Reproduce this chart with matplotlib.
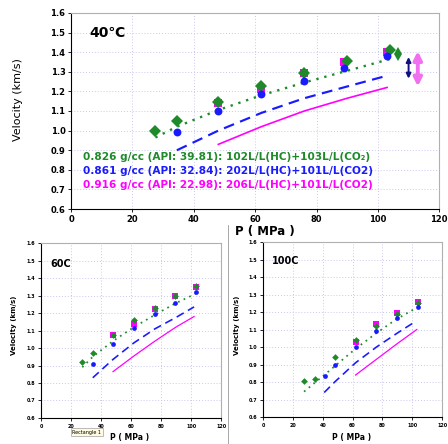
"""
Recreate the three-panel oil velocity vs pressure figure (40C / 60C / 100C).
"""

import matplotlib.pyplot as plt
from matplotlib.lines import Line2D

GREEN = "#1f8a2a"
BLUE = "#1a1aff"
PINK = "#ff00ff"
GRID = "#c8c8f0"

# ---------- data ----------
# 40C
p40_green = [27.5, 34.5, 48, 62, 76, 90, 104]
v40_green = [1.00, 1.05, 1.145, 1.225, 1.295, 1.355, 1.41]
p40_pink = [48, 62, 76, 89, 103]
v40_pink = [1.14, 1.21, 1.295, 1.35, 1.40]
p40_blue = [34.5, 48, 62, 76, 89, 103]
v40_blue = [0.995, 1.10, 1.185, 1.255, 1.32, 1.38]
p40_gfit = [27.5, 34.5, 48, 62, 76, 90, 104]
v40_gfit = [0.965, 1.02, 1.105, 1.18, 1.245, 1.305, 1.365]
p40_bfit = [34.5, 48, 62, 76, 90, 103]
v40_bfit = [0.90, 1.00, 1.09, 1.165, 1.225, 1.28]
p40_pfit = [48, 62, 76, 90, 103]
v40_pfit = [0.93, 1.02, 1.10, 1.165, 1.22]

# 60C
p60_green = [27.5, 34.5, 48, 62, 76, 89.5, 103.5]
v60_green = [0.92, 0.97, 1.075, 1.16, 1.23, 1.295, 1.355]
p60_pink = [48, 62, 76, 89.5, 103.5]
v60_pink = [1.075, 1.14, 1.225, 1.295, 1.35]
p60_blue = [34.5, 48, 62, 76, 89.5, 103.5]
v60_blue = [0.91, 1.025, 1.115, 1.195, 1.26, 1.32]
p60_gfit = [27.5, 34.5, 48, 62, 76, 89.5, 103]
v60_gfit = [0.89, 0.95, 1.04, 1.12, 1.19, 1.255, 1.31]
p60_bfit = [34.5, 48, 62, 76, 90, 102]
v60_bfit = [0.83, 0.935, 1.03, 1.11, 1.175, 1.235]
p60_pfit = [48, 62, 76, 90, 102]
v60_pfit = [0.865, 0.955, 1.04, 1.12, 1.18]

# 100C
p100_green = [27.5, 35, 48, 62, 76, 89.5, 103.5]
v100_green = [0.805, 0.82, 0.945, 1.04, 1.12, 1.19, 1.25]
p100_pink = [62, 76, 89.5, 103.5]
v100_pink = [1.03, 1.13, 1.195, 1.255]
p100_blue = [41.5, 48, 62, 76, 89.5, 103.5]
v100_blue = [0.835, 0.90, 1.00, 1.09, 1.165, 1.23]
p100_gfit = [27.5, 41, 48, 62, 76, 89.5, 103]
v100_gfit = [0.745, 0.84, 0.89, 0.99, 1.08, 1.16, 1.225]
p100_bfit = [41, 48, 62, 76, 90, 101]
v100_bfit = [0.74, 0.80, 0.91, 1.00, 1.08, 1.14]
p100_pfit = [62, 76, 90, 103]
v100_pfit = [0.84, 0.93, 1.02, 1.10]

legend_lines = [
    ("0.826 g/cc (API: 39.81): 102L/L(HC)+103L/L(CO₂)", GREEN),
    ("0.861 g/cc (API: 32.84): 202L/L(HC)+101L/L(CO2)", BLUE),
    ("0.916 g/cc (API: 22.98): 206L/L(HC)+101L/L(CO2)", PINK),
]

x_ticks = [0, 20, 40, 60, 80, 100, 120]
y_ticks = [0.6, 0.7, 0.8, 0.9, 1.0, 1.1, 1.2, 1.3, 1.4, 1.5, 1.6]


def draw_panel(ax, data, ms, lw, tick_fs):
    (pg, vg, pp, vp, pb, vb, pgf, vgf, pbf, vbf, ppf, vpf) = data
    ax.plot(pgf, vgf, color=GREEN, linestyle=(0, (1, 2.5)), linewidth=lw * 1.4)
    ax.plot(pbf, vbf, color=BLUE, linestyle=(0, (5, 3)), linewidth=lw * 1.3)
    ax.plot(ppf, vpf, color=PINK, linestyle="-", linewidth=lw)
    ax.plot(pp, vp, "s", color=PINK, markersize=ms, markeredgewidth=0)
    ax.plot(pg, vg, "D", color=GREEN, markersize=ms * 0.9, markeredgewidth=0)
    ax.plot(pb, vb, "o", color=BLUE, markersize=ms * 0.9, markeredgewidth=0)
    ax.set_xlim(0, 120)
    ax.set_ylim(0.6, 1.6)
    ax.set_xticks(x_ticks)
    ax.set_yticks(y_ticks)
    ax.set_yticklabels([f"{t:.1f}" for t in y_ticks])
    ax.tick_params(labelsize=tick_fs, length=2, width=0.6, pad=2)
    for lab in ax.get_xticklabels() + ax.get_yticklabels():
        lab.set_fontweight("bold")
    ax.grid(True, color=GRID, linestyle=(0, (1, 2)), linewidth=0.7)
    ax.set_axisbelow(True)
    for side in ("top", "right"):
        ax.spines[side].set_color("#b0b0b0")
    for side in ("left", "bottom"):
        ax.spines[side].set_linewidth(0.8)


fig = plt.figure(figsize=(4.48, 4.44), dpi=100)

# ---------- top panel: 40C ----------
ax1 = fig.add_axes([0.1585, 0.529, 0.822, 0.442])
draw_panel(ax1, (p40_green, v40_green, p40_pink, v40_pink, p40_blue, v40_blue,
                 p40_gfit, v40_gfit, p40_bfit, v40_bfit, p40_pfit, v40_pfit),
           ms=6.3, lw=1.2, tick_fs=6)
ax1.text(6, 1.50, "40℃", fontsize=10, fontweight="bold", va="center")
for i, (txt, col) in enumerate(legend_lines):
    ax1.text(4, 0.865 - i * 0.072, txt, color=col, fontsize=7.6,
             fontweight="bold", va="center")
# change indicators on the right
ax1.plot([106.5], [1.39], "d", color=GREEN, markersize=7.5, markeredgewidth=0)
ax1.annotate("", xy=(110, 1.265), xytext=(110, 1.375),
             arrowprops=dict(arrowstyle="<|-|>", color="#101080", lw=1.4,
                             mutation_scale=7, shrinkA=0, shrinkB=0))
ax1.annotate("", xy=(113, 1.225), xytext=(113, 1.405),
             arrowprops=dict(arrowstyle="<|-|>", color="#f070f0", lw=2.8,
                             mutation_scale=12, shrinkA=0, shrinkB=0))
fig.text(0.04, 0.775, "Velocity (km/s)", rotation=90, fontsize=8,
         ha="center", va="center")
fig.text(0.592, 0.478, "P ( MPa )", fontsize=8.5, fontweight="bold",
         ha="center", va="center")

# ---------- bottom left: 60C ----------
ax2 = fig.add_axes([0.0915, 0.0586, 0.402, 0.394])
draw_panel(ax2, (p60_green, v60_green, p60_pink, v60_pink, p60_blue, v60_blue,
                 p60_gfit, v60_gfit, p60_bfit, v60_bfit, p60_pfit, v60_pfit),
           ms=3.8, lw=0.9, tick_fs=3.5)
ax2.text(6, 1.48, "60C", fontsize=7, fontweight="bold", va="center")
fig.text(0.031, 0.268, "Velocity (km/s)", rotation=90, fontsize=5,
         fontweight="bold", ha="center", va="center")
fig.text(0.29, 0.014, "P ( MPa )", fontsize=5.5, fontweight="bold",
         ha="center", va="center")
fig.text(0.194, 0.026, "Rectangle 1", fontsize=3.5, ha="center", va="center",
         bbox=dict(boxstyle="square,pad=0.3", facecolor="#fffbe0",
                   edgecolor="#a0a0a0", linewidth=0.5))

# ---------- bottom right: 100C ----------
ax3 = fig.add_axes([0.587, 0.0608, 0.400, 0.394])
draw_panel(ax3, (p100_green, v100_green, p100_pink, v100_pink, p100_blue, v100_blue,
                 p100_gfit, v100_gfit, p100_bfit, v100_bfit, p100_pfit, v100_pfit),
           ms=3.8, lw=0.9, tick_fs=3.5)
ax3.text(6, 1.49, "100C", fontsize=7, fontweight="bold", va="center")
fig.text(0.529, 0.268, "Velocity (km/s)", rotation=90, fontsize=5,
         fontweight="bold", ha="center", va="center")
fig.text(0.785, 0.014, "P ( MPa )", fontsize=5.5, fontweight="bold",
         ha="center", va="center")

# thin frame line between the two lower pictures
fig.add_artist(Line2D([0.509, 0.509], [0.0, 0.493], color="#9a9a9a",
                      linewidth=0.6, transform=fig.transFigure))

fig.savefig("out.png", dpi=100)
print("saved out.png")
